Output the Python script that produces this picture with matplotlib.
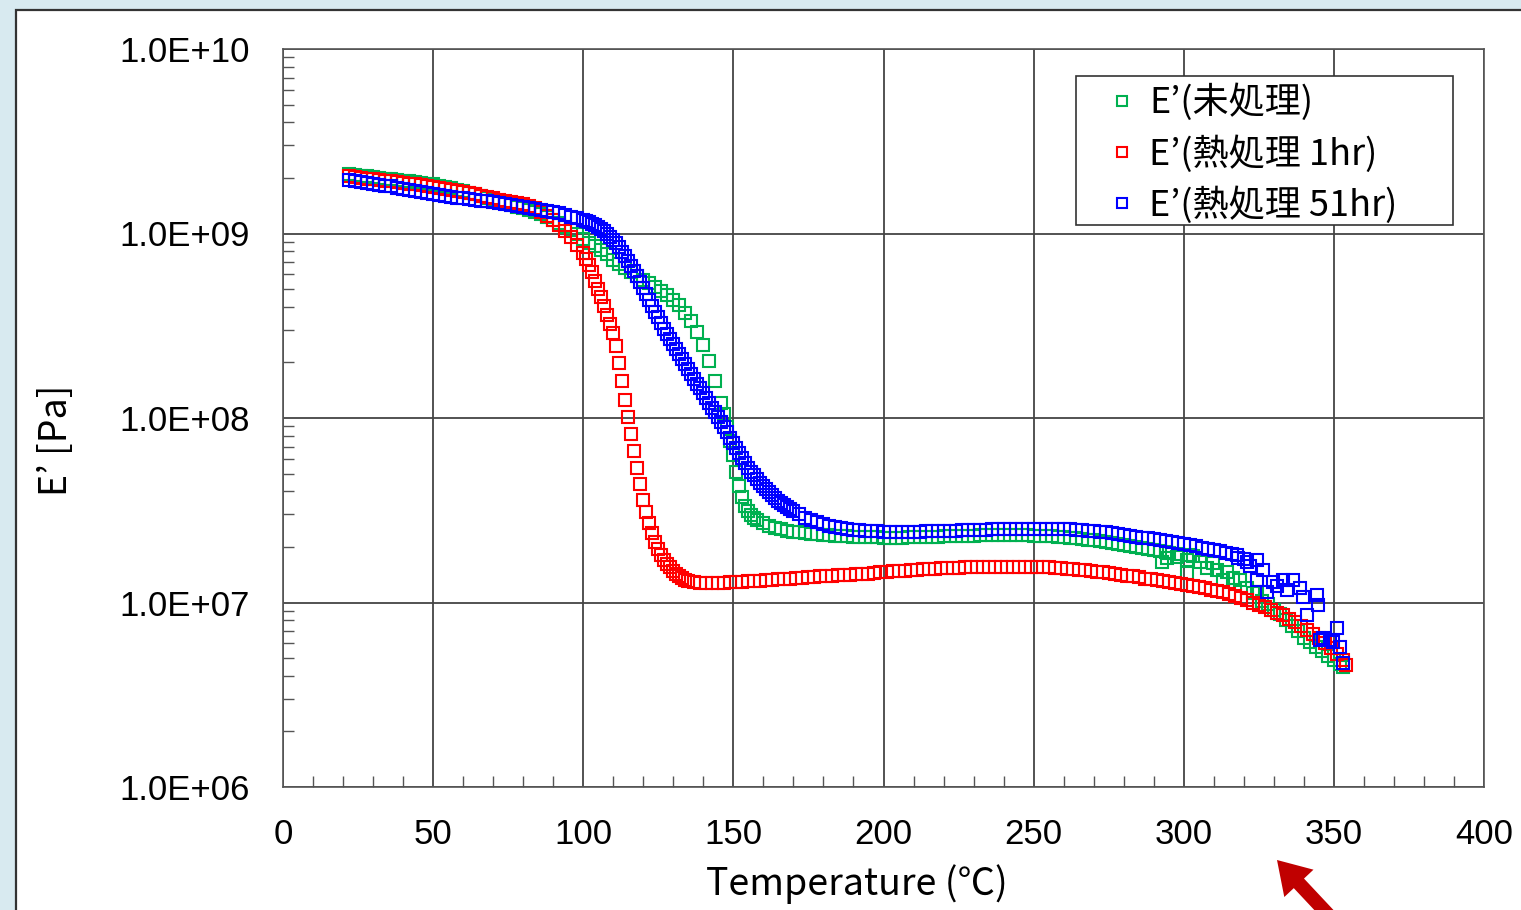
"""
DMA 貯蔵弾性率 E' の温度依存性(未処理 / 熱処理 1hr / 熱処理 51hr)
"""

import matplotlib
matplotlib.use("Agg")
import matplotlib.pyplot as plt
import numpy as np
from matplotlib.patches import Rectangle, FancyArrow
from matplotlib.transforms import IdentityTransform
from matplotlib.ticker import FixedLocator, FuncFormatter, LogLocator

# ---- データ (グラフから読み取り, E' は log10[Pa]) ----
temp_green = [22, 24, 26, 28, 30, 32, 34, 36, 38, 40, 42, 44, 46, 48, 50, 52, 54, 56, 58, 60,
              62, 64, 66, 68, 70, 72, 74, 76, 78, 80, 82, 84, 86, 88, 90, 92, 94, 96, 98, 100,
              102, 104, 106, 108, 110, 112, 114, 116, 118, 120, 122, 124, 126, 128, 130, 132, 134,
              136, 138, 140, 142, 144, 146, 147, 148, 149, 150, 151, 152, 153, 154, 155, 156, 157,
              158, 160, 162, 164, 166, 168, 170, 172, 174, 176, 178, 180, 182, 184, 186, 188, 190,
              192, 194, 196, 198, 200, 202, 204, 206, 208, 210, 212, 214, 216, 218, 220, 222, 224,
              226, 228, 230, 232, 234, 236, 238, 240, 242, 244, 246, 248, 250, 252, 254, 256, 258,
              260, 262, 264, 266, 268, 270, 272, 274, 276, 278, 280, 282, 284, 286, 288, 290, 292,
              292.6, 294, 294.3, 295, 297.6, 298, 301, 301, 302.1, 303, 305.4, 307.6, 309.8, 311,
              313.2, 314.3, 316.5, 318.7, 321, 323, 324.3, 326, 328, 330, 332, 334, 336, 338, 340,
              342, 344, 346, 348, 350, 352, 353]
logE_green = [9.32, 9.317, 9.314, 9.31, 9.306, 9.302, 9.298, 9.294, 9.29, 9.286, 9.282, 9.278,
              9.274, 9.27, 9.266, 9.26, 9.253, 9.246, 9.238, 9.23, 9.222, 9.213, 9.204, 9.195,
              9.186, 9.176, 9.166, 9.156, 9.146, 9.136, 9.126, 9.115, 9.103, 9.088, 9.072, 9.055,
              9.037, 9.017, 8.995, 8.972, 8.95, 8.932, 8.912, 8.89, 8.858, 8.836, 8.814, 8.793,
              8.772, 8.75, 8.73, 8.71, 8.688, 8.665, 8.64, 8.61, 8.57, 8.525, 8.465, 8.395, 8.31,
              8.2, 8.08, 8.02, 7.95, 7.875, 7.80, 7.71, 7.63, 7.57, 7.525, 7.495, 7.475, 7.46,
              7.448, 7.43, 7.415, 7.404, 7.396, 7.389, 7.384, 7.38, 7.376, 7.373, 7.37, 7.367,
              7.365, 7.363, 7.361, 7.359, 7.357, 7.356, 7.355, 7.354, 7.353, 7.352, 7.352, 7.352,
              7.352, 7.353, 7.353, 7.354, 7.355, 7.356, 7.357, 7.358, 7.359, 7.36, 7.361, 7.362,
              7.363, 7.364, 7.364, 7.365, 7.365, 7.365, 7.365, 7.365, 7.364, 7.364, 7.363, 7.362,
              7.361, 7.359, 7.357, 7.355, 7.352, 7.349, 7.345, 7.341, 7.337, 7.333, 7.328, 7.323,
              7.318, 7.313, 7.308, 7.303, 7.298, 7.292, 7.286, 7.28,
              7.221, 7.275, 7.24, 7.27, 7.248, 7.265, 7.23, 7.158, 7.257, 7.25, 7.221, 7.185,
              7.212, 7.176, 7.122, 7.167, 7.131, 7.122, 7.077, 7.05, 7.059, 7.01, 6.99, 6.96,
              6.935, 6.905, 6.875, 6.845, 6.81, 6.785, 6.76, 6.735, 6.71, 6.69, 6.665, 6.65]

temp_red = [22, 24, 26, 28, 30, 32, 34, 36, 38, 40, 42, 44, 46, 48, 50, 52, 54, 56, 58, 60,
            62, 64, 66, 68, 70, 72, 74, 76, 78, 80, 82, 84, 86, 88, 90, 92, 94, 96, 98, 100,
            101, 102, 103, 104, 105, 106, 107, 108, 109, 110, 111, 112, 113, 114, 115, 116, 117,
            118, 119, 120, 121, 122, 123, 124, 125, 126, 127, 128, 129, 130, 131, 132, 133, 134,
            135, 137, 139, 141, 143, 145, 147, 149, 151, 153, 155, 157, 159, 161, 163, 165, 167,
            169, 171, 173, 175, 177, 179, 181, 183, 185, 187, 189, 191, 193, 195, 197, 199, 201,
            203, 205, 207, 209, 211, 213, 215, 217, 219, 221, 223, 225, 227, 229, 231, 233, 235,
            237, 239, 241, 243, 245, 247, 249, 251, 253, 255, 257, 259, 261, 263, 265, 267, 269,
            271, 273, 275, 277, 279, 281, 283, 285, 287, 289, 291, 293, 295, 297, 299, 301, 303,
            305, 307, 309, 311, 313, 315, 317, 319, 321, 323, 325, 327, 329, 331, 333, 335, 337,
            339, 341, 343, 345, 347, 349, 351, 353, 354]
logE_red = [9.31, 9.305, 9.30, 9.297, 9.293, 9.29, 9.286, 9.282, 9.278, 9.274, 9.27, 9.266,
            9.262, 9.258, 9.254, 9.249, 9.243, 9.237, 9.231, 9.225, 9.219, 9.212, 9.205, 9.198,
            9.191, 9.184, 9.178, 9.172, 9.166, 9.158, 9.15, 9.14, 9.115, 9.095, 9.072, 9.045,
            9.015, 8.98, 8.94, 8.895, 8.86, 8.83, 8.79, 8.745, 8.70, 8.655, 8.605, 8.56, 8.51,
            8.46, 8.39, 8.30, 8.20, 8.10, 8.005, 7.915, 7.82, 7.73, 7.64, 7.555, 7.49, 7.43,
            7.375, 7.33, 7.29, 7.26, 7.232, 7.21, 7.19, 7.172, 7.157, 7.143, 7.132, 7.123, 7.117,
            7.112, 7.108, 7.106, 7.106, 7.107, 7.108, 7.109, 7.111, 7.113, 7.115, 7.117, 7.119,
            7.121, 7.123, 7.126, 7.128, 7.13, 7.133, 7.135, 7.137, 7.139, 7.141, 7.143, 7.145,
            7.147, 7.149, 7.151, 7.153, 7.155, 7.157, 7.16, 7.163, 7.166, 7.169, 7.171, 7.173,
            7.176, 7.178, 7.18, 7.182, 7.184, 7.185, 7.187, 7.188, 7.189, 7.19, 7.191, 7.192,
            7.193, 7.193, 7.194, 7.194, 7.194, 7.194, 7.194, 7.193, 7.193, 7.192, 7.191, 7.19,
            7.188, 7.186, 7.184, 7.181, 7.178, 7.175, 7.172, 7.168, 7.164, 7.16, 7.156, 7.151,
            7.146, 7.141, 7.136, 7.13, 7.125, 7.12, 7.115, 7.11, 7.105, 7.10, 7.095, 7.09, 7.085,
            7.078, 7.07, 7.063, 7.055, 7.045, 7.035, 7.025, 7.012, 7.0, 6.988, 6.975, 6.96,
            6.945, 6.93, 6.912, 6.893, 6.873, 6.852, 6.83, 6.806, 6.781, 6.753, 6.722, 6.687,
            6.66]

temp_blue = [22, 24, 26, 28, 30, 32, 34, 36, 38, 40, 42, 44, 46, 48, 50, 52, 54, 56, 58, 60,
             62, 64, 66, 68, 70, 72, 74, 76, 78, 80, 82, 84, 86, 88, 90, 92, 94, 96, 98, 100,
             101, 102, 103, 104, 105, 106, 107, 108, 109, 110, 111, 112, 113, 114, 115, 116, 117,
             118, 119, 120, 121, 122, 123, 124, 125, 126, 127, 128, 129, 130, 131, 132, 133, 134,
             135, 136, 137, 138, 139, 140, 141, 142, 143, 144, 145, 146, 147, 148, 149, 150, 151,
             152, 153, 154, 155, 156, 157, 158, 159, 160, 161, 162, 163, 164, 165, 166, 167, 168,
             169, 170, 172, 174, 176, 178, 180, 182, 184, 186, 188, 190, 192, 194, 196, 198, 200,
             202, 204, 206, 208, 210, 212, 214, 216, 218, 220, 222, 224, 226, 228, 230, 232, 234,
             236, 238, 240, 242, 244, 246, 248, 250, 252, 254, 256, 258, 260, 262, 264, 266, 268,
             270, 272, 274, 276, 278, 280, 282, 284, 286, 288, 290, 292, 294, 296, 298, 300, 302,
             304, 306, 308, 310, 312, 314, 316, 317.6, 318, 320, 321, 322, 324.3, 324.3, 326.5,
             327.6, 329.8, 331, 333.2, 334.3, 336.5, 338.7, 339.8, 340.9, 344.3, 344.8, 345.4,
             346.5, 348.7, 349.8, 350.9, 352, 353.1]
logE_blue = [9.29, 9.285, 9.28, 9.275, 9.27, 9.265, 9.26, 9.255, 9.249, 9.243, 9.237, 9.231,
             9.226, 9.22, 9.214, 9.209, 9.204, 9.199, 9.194, 9.19, 9.186, 9.182, 9.178, 9.174,
             9.17, 9.165, 9.16, 9.155, 9.15, 9.145, 9.14, 9.134, 9.128, 9.122, 9.116, 9.109,
             9.101, 9.092, 9.082, 9.071, 9.066, 9.06, 9.053, 9.045, 9.035, 9.024, 9.012, 8.998,
             8.982, 8.965, 8.946, 8.925, 8.902, 8.878, 8.853, 8.826, 8.798, 8.768, 8.736, 8.704,
             8.672, 8.64, 8.608, 8.576, 8.545, 8.514, 8.484, 8.455, 8.427, 8.40, 8.373, 8.346,
             8.319, 8.292, 8.265, 8.238, 8.212, 8.186, 8.16, 8.134, 8.108, 8.082, 8.056, 8.03,
             8.004, 7.977, 7.95, 7.922, 7.894, 7.866, 7.838, 7.81, 7.782, 7.755, 7.73, 7.71,
             7.69, 7.67, 7.65, 7.632, 7.614, 7.597, 7.581, 7.566, 7.552, 7.539, 7.527, 7.516,
             7.505, 7.495, 7.477, 7.46, 7.446, 7.434, 7.424, 7.416, 7.409, 7.403, 7.398, 7.394,
             7.391, 7.388, 7.386, 7.385, 7.384, 7.383, 7.383, 7.383, 7.383, 7.383, 7.384, 7.385,
             7.386, 7.387, 7.388, 7.389, 7.39, 7.391, 7.392, 7.393, 7.394, 7.395, 7.396, 7.397,
             7.398, 7.399, 7.40, 7.40, 7.401, 7.401, 7.401, 7.40, 7.40, 7.399, 7.398, 7.396,
             7.394, 7.392, 7.39, 7.387, 7.384, 7.38, 7.376, 7.372, 7.367, 7.362, 7.357, 7.352,
             7.347, 7.342, 7.337, 7.332, 7.327, 7.321, 7.315, 7.31, 7.304, 7.298, 7.292, 7.286,
             7.279, 7.27, 7.262, 7.257, 7.24, 7.235, 7.221, 7.2, 7.23, 7.122, 7.176, 7.059,
             7.113, 7.09, 7.122, 7.068, 7.122, 7.077, 7.032, 6.932, 7.041, 6.986, 6.797, 6.806,
             6.797, 6.788, 6.86, 6.76, 6.67]

labels = ["E’(未処理)", "E’(熱処理 1hr)", "E’(熱処理 51hr)"]
colors = ["#00B050", "#FF0000", "#0000FF"]

x_ticks = [0, 50, 100, 150, 200, 250, 300, 350, 400]
y_ticks = [1e6, 1e7, 1e8, 1e9, 1e10]

W, H = 1521, 910
fig = plt.figure(figsize=(W / 100, H / 100), dpi=100, facecolor="#d8eaf0")

# 白いパネル (左上に枠線)
panel = Rectangle((16 / W, -0.05), 1.2, 1 - 10 / H + 0.05, transform=fig.transFigure,
                  facecolor="white", edgecolor="#333333", linewidth=1.6, zorder=0)
fig.add_artist(panel)

ax = fig.add_axes([283 / W, 1 - 787 / H, (1484 - 283) / W, (787 - 49) / H])
ax.set_facecolor("white")

series = [(temp_green, logE_green), (temp_red, logE_red), (temp_blue, logE_blue)]
for (t, le), lab, c in zip(series, labels, colors):
    ax.plot(t, 10 ** np.array(le), linestyle="none", marker="s", markersize=8,
            markerfacecolor="none", markeredgecolor=c, markeredgewidth=1.5, label=lab, zorder=3)

ax.set_yscale("log")
ax.set_xlim(0, 400)
ax.set_ylim(1e6, 1e10)

ax.xaxis.set_major_locator(FixedLocator(x_ticks))
ax.xaxis.set_minor_locator(FixedLocator(range(0, 401, 10)))
ax.yaxis.set_major_locator(FixedLocator(y_ticks))
ax.yaxis.set_minor_locator(LogLocator(base=10, subs=np.arange(2, 10)))
ax.yaxis.set_minor_formatter(FuncFormatter(lambda v, p: ""))
ax.yaxis.set_major_formatter(FuncFormatter(lambda v, p: f"1.0E+{int(round(np.log10(v))):02d}"))

ax.grid(True, which="major", color="#444444", linewidth=1.3, zorder=1)
ax.tick_params(which="major", length=0, labelsize=25, pad=22)
ax.tick_params(axis="y", which="major", pad=24)
ax.tick_params(which="minor", direction="in", length=8, width=1.0, color="#555555")
for lab in ax.get_xticklabels() + ax.get_yticklabels():
    lab.set_family(["Liberation Sans", "DejaVu Sans"])
for sp in ax.spines.values():
    sp.set_color("#555555")
    sp.set_linewidth(1.2)

cjk = ["Noto Sans CJK JP", "DejaVu Sans"]
ax.set_xlabel("Temperature (℃)", family=cjk, fontsize=27)
ax.xaxis.set_label_coords((857 - 283) / 1201, -0.105)
ax.set_ylabel("E’ [Pa]", family=cjk, fontsize=27)
ax.yaxis.set_label_coords(-0.172, 0.47)

# 凡例 (枠は別に描く)
frame = Rectangle((0.660, 0.7615), 0.314, 0.2019, transform=ax.transAxes, facecolor="white",
                  edgecolor="#333333", linewidth=1.2, zorder=4)
ax.add_patch(frame)
leg = ax.legend(loc="upper left", bbox_to_anchor=(0.682, 0.9600), borderaxespad=0,
                prop={"family": cjk, "size": 26}, frameon=False, handlelength=0.8,
                handletextpad=0.35, borderpad=0.15, labelspacing=0.38, markerscale=0.85)
leg.set_zorder(5)

# 右下の赤い矢印
arrow = FancyArrow(1337, -14, -60, 64, width=14, head_width=40, head_length=32,
                   length_includes_head=True, transform=IdentityTransform(),
                   color="#C00000", linewidth=0)
fig.add_artist(arrow)

fig.savefig("out.png", dpi=100, facecolor=fig.get_facecolor())
